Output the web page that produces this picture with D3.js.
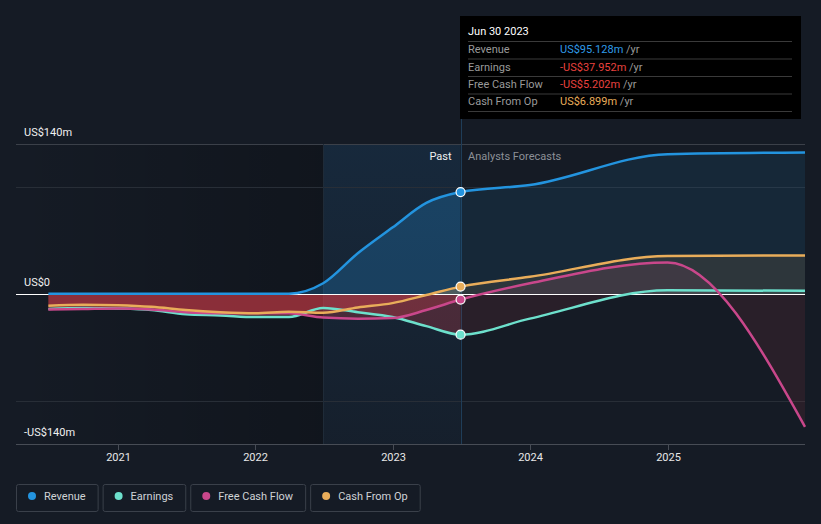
<!DOCTYPE html>
<html><head><meta charset="utf-8">
<script src="https://cdn.jsdelivr.net/npm/d3@7"></script>
<style>
html,body{margin:0;padding:0;background:#151b25;}
svg{display:block;font-family:Roboto,"Noto Sans",sans-serif;}
</style></head><body>
<svg id="c" width="821" height="524"></svg>
<script>
// ---------- data (US$ millions) ----------
const dates = ["2020-06-30","2020-09-30","2020-12-31","2021-03-31","2021-06-30","2021-09-30","2021-12-31","2022-03-31","2022-06-30","2022-09-30","2022-12-31","2023-03-31","2023-06-30","2023-12-31","2024-12-31","2025-12-31"];
const revenue      = [0.3,0.3,0.3,0.3,0.3,0.3,0.3,0.3,10,38,62,85,95.128,101.7,130.5,132];
const earnings     = [-14,-13,-13.5,-15,-19,-20,-21.5,-21.5,-13,-17,-21.5,-30,-37.952,-23,3.5,3];
const freeCashFlow = [-14.5,-14,-13.5,-14.5,-17,-18,-18,-18,-22,-23,-22.5,-15,-5.202,10,29.5,-124];
const cashFromOp   = [-11,-10,-10.5,-12,-15,-17,-18,-16.5,-17.5,-12.5,-8.5,-1,6.899,16,35.5,36];
const seriesNames  = ["Revenue","Earnings","Free Cash Flow","Cash From Op"];
const seriesColors = ["#2394df","#6de0cc","#c9478b","#e9ad5a"];
const yTickValues  = [140,0,-140];
const yTickLabels  = ["US$140m","US$0","-US$140m"];
const gridValues   = [100,-100];
const xTickYears   = [2021,2022,2023,2024,2025];
const pastEnd = "2023-06-30";
const highlightStart = "2022-06-30";
const tooltipDate = "Jun 30 2023";
const tooltipValues = ["US$95.128m","-US$37.952m","-US$5.202m","US$6.899m"];
const tooltipColors = ["#2f9be8","#e8423f","#e8423f","#e9ad5a"];

// ---------- setup ----------
const parse = d3.timeParse("%Y-%m-%d");
const svg = d3.select("#c");
const x = d3.scaleTime().domain([parse("2020-04-05"), parse("2025-12-31")]).range([16,805]);
const y = d3.scaleLinear().domain([-140,140]).range([444,144]);
const X0 = 16, X1 = 805, Y0 = y(0);
const xPast = x(parse(pastEnd)), xHL = x(parse(highlightStart));
const allSeries = [revenue, earnings, freeCashFlow, cashFromOp];
const data = allSeries.map(vals => dates.map((d,i)=>({date:parse(d), v:vals[i]})));

const defs = svg.append("defs");
const lg = defs.append("linearGradient").attr("id","pastShade").attr("x1",0).attr("x2",1).attr("y1",0).attr("y2",0);
lg.append("stop").attr("offset","0").attr("stop-color","#000").attr("stop-opacity",0);
lg.append("stop").attr("offset","1").attr("stop-color","#000").attr("stop-opacity",0.22);
const hg = defs.append("linearGradient").attr("id","hlShade").attr("x1",0).attr("x2",0).attr("y1",0).attr("y2",1);
hg.append("stop").attr("offset","0").attr("stop-color","#1e5a8c").attr("stop-opacity",0.22);
hg.append("stop").attr("offset","1").attr("stop-color","#1e5a8c").attr("stop-opacity",0.07);

function clip(id, x0, x1, y0, y1){
  defs.append("clipPath").attr("id",id).append("rect").attr("x",x0).attr("y",y0).attr("width",x1-x0).attr("height",y1-y0);
}
clip("posPast", X0, xPast, 100, Y0);
clip("negPast", X0, xPast, Y0, 460);
clip("posFc", xPast, X1, 100, Y0);
clip("negFc", xPast, X1, Y0, 460);

// backgrounds
svg.append("rect").attr("x",X0).attr("y",144).attr("width",xHL-X0).attr("height",300).attr("fill","url(#pastShade)");
svg.append("rect").attr("x",xHL).attr("y",144).attr("width",xPast-xHL).attr("height",300).attr("fill","url(#hlShade)");

// grid
svg.append("line").attr("x1",X0).attr("x2",X1).attr("y1",y(140)+0.5).attr("y2",y(140)+0.5).attr("stroke","#3b4049");
svg.selectAll(".grid").data(gridValues).enter().append("line")
  .attr("x1",X0).attr("x2",X1).attr("y1",d=>Math.round(y(d))+0.5).attr("y2",d=>Math.round(y(d))+0.5)
  .attr("stroke","#282e37");
svg.append("line").attr("x1",Math.round(xHL)+0.5).attr("x2",Math.round(xHL)+0.5).attr("y1",144).attr("y2",444).attr("stroke","#1f2b38");
svg.append("line").attr("x1",Math.round(xPast)+0.5).attr("x2",Math.round(xPast)+0.5).attr("y1",16).attr("y2",444).attr("stroke","#1f3d58");

// areas
const area = d3.area().x(d=>x(d.date)).y0(Y0).y1(d=>y(d.v)).curve(d3.curveMonotoneX);
const areaG = svg.append("g");
data.forEach((s,i)=>{
  [["posPast",seriesColors[i],0.25],["negPast","#e3414b",0.25],["posFc",seriesColors[i],0.11],["negFc","#e3414b",0.1]].forEach(([cp,col,op])=>{
    areaG.append("path").attr("d",area(s)).attr("fill",col).attr("fill-opacity",op).attr("clip-path",`url(#${cp})`);
  });
});

// zero line
svg.append("line").attr("x1",X0).attr("x2",X1).attr("y1",Math.round(Y0)+0.5).attr("y2",Math.round(Y0)+0.5).attr("stroke","#ffffff").attr("stroke-width",1);

// lines
const line = d3.line().x(d=>x(d.date)).y(d=>y(d.v)).curve(d3.curveMonotoneX);
const order = [1,2,3,0];
order.forEach(i=>{
  svg.append("path").attr("d",line(data[i])).attr("fill","none").attr("stroke",seriesColors[i]).attr("stroke-width",2.5);
});

// markers
const pi = dates.indexOf(pastEnd);
order.forEach(i=>{
  svg.append("circle").attr("cx",x(data[i][pi].date)).attr("cy",y(data[i][pi].v)).attr("r",4.5)
    .attr("fill",seriesColors[i]).attr("stroke","#ffffff").attr("stroke-width",1.2);
});

// x axis
svg.append("line").attr("x1",X0).attr("x2",X1).attr("y1",444.5).attr("y2",444.5).attr("stroke","#474c55");
const xt = svg.selectAll(".xt").data(xTickYears).enter().append("g").attr("transform",d=>`translate(${Math.round(x(new Date(d,0,1)))+0.5},0)`);
xt.append("line").attr("y1",444).attr("y2",450).attr("stroke","#474c55");
xt.append("text").attr("y",461).attr("text-anchor","middle").attr("fill","#e8e8e8").attr("font-size",11).text(d=>d);

// y labels
svg.selectAll(".yl").data(yTickValues).enter().append("text")
  .attr("x",24).attr("y",d=>y(d)-8.5).attr("fill","#f0f0f0").attr("font-size",11)
  .text((d,i)=>yTickLabels[i]);

// past / forecast labels
svg.append("text").attr("x",xPast-9).attr("y",160).attr("text-anchor","end").attr("fill","#f0f0f0").attr("font-size",11).text("Past");
svg.append("text").attr("x",xPast+7.5).attr("y",160).attr("fill","#8c9097").attr("font-size",11).text("Analysts Forecasts");

// tooltip
const tt = svg.append("g");
tt.append("rect").attr("x",460).attr("y",16).attr("width",341).attr("height",103).attr("fill","#000000");
tt.append("text").attr("x",468).attr("y",35).attr("fill","#ffffff").attr("font-size",11).text(tooltipDate);
const sepY = [41,58.5,76,93.5,111];
sepY.forEach(sy=>tt.append("line").attr("x1",468).attr("x2",792).attr("y1",sy+0.5).attr("y2",sy+0.5).attr("stroke","#3a3a3a"));
const rowY = [53,70.5,88,105];
seriesNames.forEach((n,i)=>{
  tt.append("text").attr("x",468).attr("y",rowY[i]).attr("fill","#9a9a9a").attr("font-size",11).text(n);
  const t = tt.append("text").attr("x",560).attr("y",rowY[i]).attr("font-size",11);
  t.append("tspan").attr("fill",tooltipColors[i]).text(tooltipValues[i]);
  t.append("tspan").attr("fill","#9a9a9a").text(" /yr");
});

// legend
let lx = 16;
seriesNames.forEach((n,i)=>{
  const g = svg.append("g").attr("transform",`translate(${lx},0)`);
  const txt = g.append("text").attr("x",28).attr("y",500).attr("fill","#cfd2d6").attr("font-size",11).text(n);
  const w = txt.node().getComputedTextLength() + 40;
  g.insert("rect","text").attr("x",0.5).attr("y",484.5).attr("width",w).attr("height",27).attr("rx",2)
    .attr("fill","none").attr("stroke","#3a404a");
  g.append("circle").attr("cx",16).attr("cy",496).attr("r",4).attr("fill",seriesColors[i]);
  lx += w + 5;
});
</script>
</body></html>
